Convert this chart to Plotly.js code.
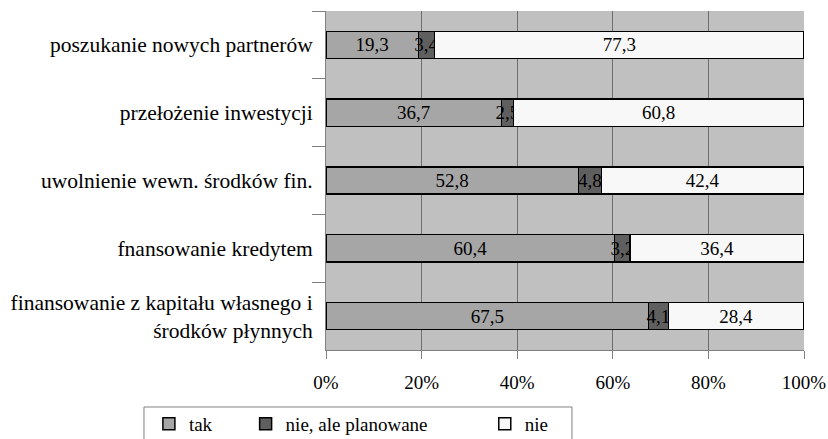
<!DOCTYPE html>
<html><head><meta charset="utf-8">
<script src="https://cdn.plot.ly/plotly-3.0.1.min.js"></script>
<style>
html,body{margin:0;padding:0;background:#fff}
#c{width:828px;height:439px}
</style>
</head><body>
<div id="c"></div>
<script>
const categories = [
  "poszukanie nowych partnerów",
  "przełożenie inwestycji",
  "uwolnienie wewn. środków fin.",
  "fnansowanie kredytem",
  "finansowanie z kapitału własnego i<br>środków płynnych"
];
const tak = [19.3, 36.7, 52.8, 60.4, 67.5];
const planowane = [3.4, 2.5, 4.8, 3.2, 4.1];
const nie = [77.3, 60.8, 42.4, 36.4, 28.4];
const seriesNames = ["tak", "nie, ale planowane", "nie"];
const xTickVals = [0, 20, 40, 60, 80, 100];
const xTickText = ["0%", "20%", "40%", "60%", "80%", "100%"];

function F(size) { return {family: "Times New Roman", size: size, color: "#000"}; }
function mk(vals, color, legendName) {
  return {
    type: "bar", orientation: "h", x: vals, y: categories, name: legendName,
    marker: {color: color, line: {color: "#000", width: 1.5}},
    text: vals.map(v => v.toFixed(1).replace(".", ",")),
    textposition: "inside", insidetextanchor: "middle", textangle: 0,
    constraintext: "none", cliponaxis: false,
    textfont: F(19), insidetextfont: F(19), width: 0.4, hoverinfo: "x+name"
  };
}
function build() {
  const data = [
    mk(tak, "#a6a6a6", seriesNames[0] + "\u00a0".repeat(6)),
    mk(planowane, "#5f5f5f", seriesNames[1] + "\u00a0".repeat(11)),
    mk(nie, "#f8f8f8", seriesNames[2])
  ];
  const layout = {
    width: 828, height: 439,
    margin: {l: 326, r: 24, t: 11, b: 89, autoexpand: false},
    barmode: "stack",
    plot_bgcolor: "#c0c0c0", paper_bgcolor: "#fff",
    font: F(19),
    separators: ", ",
    showlegend: true,
    legend: {
      orientation: "h", x: -0.3705, y: -0.162, xanchor: "left", yanchor: "top",
      borderwidth: 0, font: F(19), bgcolor: "rgba(0,0,0,0)",
      traceorder: "normal", itemwidth: 30
    },
    shapes: [{
      type: "rect", xref: "paper", yref: "paper",
      x0: -0.3808, x1: 0.5146, y0: -0.1681, y1: -0.35,
      line: {color: "#808080", width: 1}, fillcolor: "rgba(0,0,0,0)"
    }],
    xaxis: {
      range: [0, 100], tickvals: xTickVals, ticktext: xTickText,
      showgrid: true, gridcolor: "#6e6e6e", gridwidth: 1,
      ticks: "outside", ticklen: 8, tickcolor: "#808080", ticklabelstandoff: 7,
      showline: true, linecolor: "#808080", linewidth: 1, zeroline: false,
      tickfont: F(19), fixedrange: true
    },
    yaxis: {
      autorange: "reversed", type: "category",
      ticks: "outside", ticklen: 13, tickcolor: "#808080", tickson: "boundaries",
      ticklabelstandoff: 8,
      showgrid: false, showline: true, linecolor: "#808080", linewidth: 1,
      tickfont: F(21.5), fixedrange: true
    }
  };
  return {data, layout};
}
const first = build();
Plotly.newPlot("c", first.data, first.layout, {displayModeBar: false});
</script></body></html>
